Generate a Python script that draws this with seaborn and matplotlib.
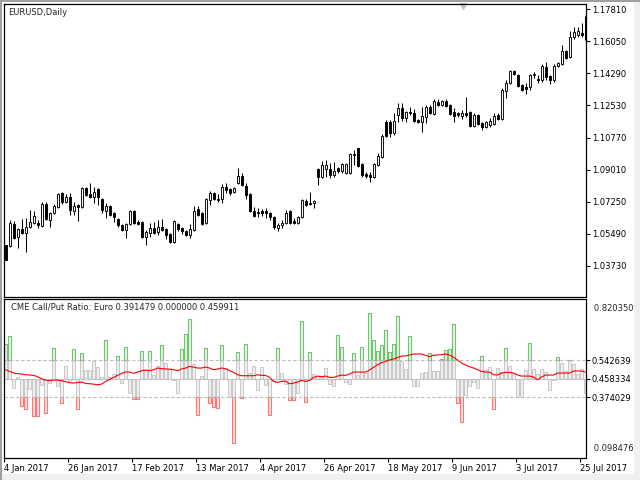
import numpy as np
import matplotlib
matplotlib.use('Agg')
import matplotlib.pyplot as plt
import seaborn as sns
from matplotlib.patches import Rectangle

# EURUSD daily candles, 4 Jan 2017 .. 26 Jul 2017
opens = [1.0487, 1.0482, 1.0602, 1.0531, 1.0575, 1.0553, 1.0586, 1.0608, 1.0608, 1.0591,
         1.0712, 1.0624, 1.0663, 1.0696, 1.0773, 1.0723, 1.0751, 1.0674, 1.0707, 1.0696,
         1.0800, 1.0767, 1.0751, 1.0795, 1.0740, 1.0674, 1.0701, 1.0663, 1.0630, 1.0597,
         1.0569, 1.0602, 1.0674, 1.0613, 1.0613, 1.0531, 1.0553, 1.0580, 1.0558, 1.0586,
         1.0575, 1.0547, 1.0504, 1.0602, 1.0580, 1.0564, 1.0542, 1.0569, 1.0685, 1.0663,
         1.0608, 1.0734, 1.0773, 1.0740, 1.0740, 1.0806, 1.0795, 1.0778, 1.0827, 1.0866,
         1.0811, 1.0767, 1.0674, 1.0668, 1.0674, 1.0674, 1.0663, 1.0641, 1.0580, 1.0597,
         1.0608, 1.0674, 1.0619, 1.0608, 1.0641, 1.0729, 1.0718, 1.0718, 1.0904, 1.0860,
         1.0904, 1.0904, 1.0871, 1.0910, 1.0893, 1.0882, 1.0882, 1.0981, 1.1020, 1.0932,
         1.0877, 1.0871, 1.0860, 1.0926, 1.0970, 1.1162, 1.1162, 1.1102, 1.1201, 1.1239,
         1.1184, 1.1217, 1.1212, 1.1173, 1.1162, 1.1190, 1.1245, 1.1206, 1.1272, 1.1256,
         1.1278, 1.1256, 1.1217, 1.1212, 1.1195, 1.1212, 1.1217, 1.1140, 1.1201, 1.1157,
         1.1135, 1.1146, 1.1151, 1.1201, 1.1179, 1.1333, 1.1376, 1.1442, 1.1420, 1.1366,
         1.1354, 1.1354, 1.1420, 1.1398, 1.1393, 1.1464, 1.1415, 1.1393, 1.1470, 1.1481,
         1.1552, 1.1519, 1.1629, 1.1640, 1.1651, 1.1656]
highs = [1.0487, 1.0624, 1.0619, 1.0580, 1.0630, 1.0635, 1.0679, 1.0674, 1.0624, 1.0723,
         1.0723, 1.0668, 1.0712, 1.0773, 1.0778, 1.0767, 1.0773, 1.0723, 1.0712, 1.0806,
         1.0806, 1.0827, 1.0806, 1.0800, 1.0745, 1.0718, 1.0707, 1.0668, 1.0635, 1.0602,
         1.0608, 1.0679, 1.0679, 1.0624, 1.0619, 1.0569, 1.0608, 1.0613, 1.0624, 1.0630,
         1.0580, 1.0553, 1.0624, 1.0608, 1.0586, 1.0569, 1.0602, 1.0701, 1.0701, 1.0668,
         1.0745, 1.0784, 1.0778, 1.0767, 1.0822, 1.0827, 1.0800, 1.0806, 1.0910, 1.0882,
         1.0827, 1.0773, 1.0696, 1.0690, 1.0685, 1.0690, 1.0668, 1.0646, 1.0608, 1.0624,
         1.0679, 1.0679, 1.0635, 1.0646, 1.0740, 1.0740, 1.0778, 1.0734, 1.0910, 1.0948,
         1.0954, 1.0937, 1.0943, 1.0915, 1.0937, 1.0937, 1.0992, 1.1009, 1.1020, 1.0937,
         1.0888, 1.0888, 1.0937, 1.0992, 1.1096, 1.1173, 1.1173, 1.1212, 1.1267, 1.1267,
         1.1223, 1.1245, 1.1234, 1.1179, 1.1245, 1.1256, 1.1256, 1.1289, 1.1289, 1.1283,
         1.1289, 1.1261, 1.1239, 1.1217, 1.1228, 1.1300, 1.1223, 1.1212, 1.1206, 1.1162,
         1.1168, 1.1184, 1.1212, 1.1212, 1.1349, 1.1393, 1.1448, 1.1448, 1.1426, 1.1371,
         1.1376, 1.1426, 1.1437, 1.1420, 1.1481, 1.1492, 1.1420, 1.1481, 1.1492, 1.1585,
         1.1558, 1.1662, 1.1684, 1.1684, 1.1706, 1.1744]
lows = [1.0405, 1.0476, 1.0520, 1.0471, 1.0547, 1.0449, 1.0580, 1.0602, 1.0580, 1.0586,
        1.0624, 1.0586, 1.0657, 1.0690, 1.0712, 1.0718, 1.0652, 1.0652, 1.0619, 1.0690,
        1.0756, 1.0745, 1.0718, 1.0707, 1.0663, 1.0635, 1.0646, 1.0613, 1.0586, 1.0564,
        1.0525, 1.0597, 1.0602, 1.0597, 1.0525, 1.0487, 1.0531, 1.0547, 1.0542, 1.0564,
        1.0520, 1.0498, 1.0498, 1.0564, 1.0547, 1.0536, 1.0525, 1.0564, 1.0646, 1.0597,
        1.0602, 1.0707, 1.0734, 1.0723, 1.0718, 1.0773, 1.0762, 1.0773, 1.0822, 1.0811,
        1.0740, 1.0668, 1.0641, 1.0641, 1.0646, 1.0635, 1.0624, 1.0575, 1.0564, 1.0580,
        1.0602, 1.0602, 1.0602, 1.0602, 1.0635, 1.0701, 1.0707, 1.0690, 1.0817, 1.0855,
        1.0860, 1.0855, 1.0860, 1.0882, 1.0882, 1.0877, 1.0877, 1.0926, 1.0915, 1.0860,
        1.0855, 1.0833, 1.0855, 1.0921, 1.0965, 1.1080, 1.1080, 1.1091, 1.1162, 1.1168,
        1.1162, 1.1201, 1.1162, 1.1157, 1.1107, 1.1157, 1.1206, 1.1201, 1.1250, 1.1250,
        1.1245, 1.1201, 1.1162, 1.1190, 1.1179, 1.1190, 1.1135, 1.1135, 1.1146, 1.1118,
        1.1129, 1.1135, 1.1146, 1.1173, 1.1173, 1.1294, 1.1371, 1.1420, 1.1354, 1.1333,
        1.1316, 1.1338, 1.1404, 1.1376, 1.1382, 1.1393, 1.1371, 1.1382, 1.1464, 1.1475,
        1.1508, 1.1514, 1.1618, 1.1629, 1.1629, 1.1612]
closes = [1.0405, 1.0608, 1.0525, 1.0575, 1.0553, 1.0586, 1.0613, 1.0646, 1.0597, 1.0712,
          1.0630, 1.0663, 1.0701, 1.0767, 1.0723, 1.0751, 1.0679, 1.0701, 1.0696, 1.0800,
          1.0762, 1.0751, 1.0778, 1.0751, 1.0679, 1.0701, 1.0652, 1.0641, 1.0597, 1.0569,
          1.0602, 1.0674, 1.0608, 1.0602, 1.0531, 1.0558, 1.0580, 1.0553, 1.0586, 1.0569,
          1.0542, 1.0504, 1.0619, 1.0575, 1.0564, 1.0542, 1.0575, 1.0674, 1.0652, 1.0602,
          1.0740, 1.0773, 1.0740, 1.0734, 1.0806, 1.0789, 1.0773, 1.0800, 1.0866, 1.0817,
          1.0762, 1.0674, 1.0646, 1.0663, 1.0663, 1.0663, 1.0641, 1.0586, 1.0597, 1.0608,
          1.0663, 1.0608, 1.0608, 1.0641, 1.0734, 1.0707, 1.0712, 1.0729, 1.0860, 1.0926,
          1.0926, 1.0871, 1.0893, 1.0893, 1.0932, 1.0932, 1.0987, 1.0987, 1.0921, 1.0871,
          1.0866, 1.0860, 1.0932, 1.0976, 1.1085, 1.1085, 1.1102, 1.1168, 1.1239, 1.1184,
          1.1217, 1.1212, 1.1168, 1.1162, 1.1195, 1.1245, 1.1212, 1.1278, 1.1256, 1.1278,
          1.1250, 1.1206, 1.1195, 1.1201, 1.1212, 1.1201, 1.1140, 1.1201, 1.1151, 1.1135,
          1.1162, 1.1168, 1.1195, 1.1179, 1.1338, 1.1376, 1.1442, 1.1426, 1.1360, 1.1338,
          1.1343, 1.1420, 1.1426, 1.1393, 1.1470, 1.1409, 1.1393, 1.1470, 1.1486, 1.1552,
          1.1514, 1.1629, 1.1656, 1.1662, 1.1640, 1.1728]

# CME call/put ratio histogram and its moving average
ratio = [0.6164, 0.6544, 0.4157, 0.4674, 0.3352, 0.3200, 0.4112, 0.2896, 0.2896, 0.4309,
         0.3017, 0.4385, 0.5981, 0.4264, 0.3504, 0.5176, 0.4492, 0.5951, 0.3200, 0.5753,
         0.4978, 0.4978, 0.5373, 0.5130, 0.4674, 0.6361, 0.4644, 0.4811, 0.5617, 0.4370,
         0.6042, 0.3945, 0.3686, 0.3686, 0.5845, 0.4978, 0.5829, 0.4765, 0.5145, 0.6118,
         0.5297, 0.5039, 0.4537, 0.3929, 0.5936, 0.6620, 0.7304, 0.5252, 0.2926, 0.4689,
         0.5997, 0.3473, 0.3321, 0.3245, 0.6118, 0.5069, 0.3747, 0.1650, 0.5799, 0.3717,
         0.6164, 0.4841, 0.5176, 0.4066, 0.5100, 0.4279, 0.2926, 0.4461, 0.5997, 0.4841,
         0.4355, 0.3610, 0.3610, 0.3929, 0.7213, 0.3519, 0.5799, 0.4796, 0.4705, 0.4674,
         0.5069, 0.4340, 0.4249, 0.6574, 0.6027, 0.4431, 0.4340, 0.5753, 0.4765, 0.6027,
         0.4841, 0.7577, 0.6346, 0.5845, 0.6118, 0.6802, 0.5799, 0.6164, 0.7441, 0.5389,
         0.5024, 0.6529, 0.4249, 0.4249, 0.4841, 0.4887, 0.5753, 0.4933, 0.4933, 0.5495,
         0.5905, 0.5951, 0.7076, 0.3473, 0.2607, 0.3838, 0.4249, 0.4431, 0.4157, 0.5617,
         0.4978, 0.5115, 0.3200, 0.5069, 0.4887, 0.5981, 0.5161, 0.4841, 0.3747, 0.3747,
         0.4978, 0.6209, 0.5024, 0.4796, 0.5024, 0.4887, 0.4066, 0.4522, 0.5571, 0.5297,
         0.4933, 0.5434, 0.5252, 0.4796, 0.5024, 0.3915]
ratio_ma = [0.4993, 0.4917, 0.4841, 0.4811, 0.4796, 0.4765, 0.4750, 0.4735, 0.4674, 0.4583,
            0.4522, 0.4492, 0.4522, 0.4522, 0.4492, 0.4446, 0.4401, 0.4385, 0.4416, 0.4431,
            0.4370, 0.4355, 0.4340, 0.4309, 0.4340, 0.4461, 0.4553, 0.4644, 0.4735, 0.4826,
            0.4887, 0.4887, 0.4826, 0.4887, 0.4948, 0.4978, 0.4948, 0.4993, 0.5069, 0.5039,
            0.5024, 0.5024, 0.4993, 0.4948, 0.5024, 0.5069, 0.5145, 0.5115, 0.5069, 0.5069,
            0.5115, 0.5069, 0.4993, 0.5024, 0.5069, 0.5039, 0.4948, 0.4872, 0.4765, 0.4720,
            0.4720, 0.4720, 0.4720, 0.4765, 0.4735, 0.4735, 0.4644, 0.4461, 0.4416, 0.4461,
            0.4476, 0.4355, 0.4385, 0.4431, 0.4507, 0.4461, 0.4507, 0.4644, 0.4705, 0.4674,
            0.4705, 0.4644, 0.4644, 0.4705, 0.4750, 0.4735, 0.4796, 0.4887, 0.4887, 0.4887,
            0.4887, 0.4978, 0.5100, 0.5221, 0.5313, 0.5373, 0.5434, 0.5480, 0.5541, 0.5617,
            0.5617, 0.5662, 0.5708, 0.5708, 0.5708, 0.5647, 0.5586, 0.5647, 0.5662, 0.5677,
            0.5708, 0.5662, 0.5556, 0.5434, 0.5297, 0.5206, 0.5130, 0.5069, 0.4993, 0.4917,
            0.4887, 0.4887, 0.4765, 0.4750, 0.4841, 0.4872, 0.4872, 0.4841, 0.4750, 0.4705,
            0.4705, 0.4705, 0.4659, 0.4537, 0.4659, 0.4750, 0.4750, 0.4750, 0.4841, 0.4841,
            0.4841, 0.4841, 0.4933, 0.4933, 0.4933, 0.4887]

levels = [0.542639, 0.458334, 0.374029]
ind_min, ind_max = 0.098476, 0.820350
price_ticks = [1.17810, 1.16050, 1.14290, 1.12530, 1.10770, 1.09010, 1.07250, 1.05490, 1.03730]
date_labels = ['4 Jan 2017', '26 Jan 2017', '17 Feb 2017', '13 Mar 2017', '4 Apr 2017',
               '26 Apr 2017', '18 May 2017', '9 Jun 2017', '3 Jul 2017', '25 Jul 2017']
date_bars = [0, 16, 32, 48, 64, 80, 96, 112, 128, 144]

sns.set_style('white')
plt.rcParams['font.family'] = ['DejaVu Sans']
plt.rcParams['font.size'] = 6

W, H = 640, 480
fig = plt.figure(figsize=(6.4, 4.8), dpi=100, facecolor='#f0f0f0')
fig.add_artist(Rectangle((2 / W, 6 / H), 632 / W, 472 / H, transform=fig.transFigure,
                         facecolor='white', edgecolor='none', zorder=0))
fig.add_artist(Rectangle((0, 0), 2 / W, 1, transform=fig.transFigure, facecolor='#a0a0a0', edgecolor='none'))
fig.add_artist(Rectangle((0, 1 - 2 / H), 1, 2 / H, transform=fig.transFigure, facecolor='#a0a0a0', edgecolor='none'))


def px_axes(left, top, right, bottom):
    return fig.add_axes([left / W, 1 - bottom / H, (right - left) / W, (bottom - top) / H])


ax = px_axes(4, 4, 585.5, 296.5)
ax2 = px_axes(4, 299, 585.5, 458)

idx = np.arange(len(closes))
o = np.array(opens); c = np.array(closes)
xlim = (-0.4, 145.0)

# candles
ax.vlines(idx, lows, highs, color='black', lw=0.75, zorder=2)
up = c >= o
body_lo = np.minimum(o, c)
body_h = np.maximum(np.abs(c - o), 0.00005)
ax.bar(idx[up], body_h[up], bottom=body_lo[up], width=0.5, color='white', edgecolor='black', lw=0.65, zorder=3)
ax.bar(idx[~up], body_h[~up], bottom=body_lo[~up], width=0.5, color='black', edgecolor='black', lw=0.65, zorder=3)
ax.set_xlim(*xlim)
ax.set_ylim(1.02043, 1.1810)
ax.set_xticks([])
ax.yaxis.tick_right()
ax.set_yticks(price_ticks)
ax.set_yticklabels(['%.5f' % p for p in price_ticks])
ax.tick_params(axis='y', direction='out', length=3, width=0.8, pad=1.5, labelsize=6, colors='black', right=True)
ax.text(0.007, 0.985, 'EURUSD,Daily', transform=ax.transAxes, ha='left', va='top', fontsize=6)
ax.plot([0.789], [0.992], marker='v', color='#c0c0c0', ms=5, transform=ax.transAxes, clip_on=False)

# indicator
r = np.array(ratio)
upper, mid, lower = levels
grey_top = np.clip(r, lower, upper)
ax2.bar(idx, grey_top - mid, bottom=mid, width=0.92, color='#efefef', edgecolor='#c8c8c8', lw=0.7, zorder=1)
g = r > upper
ax2.bar(idx[g], r[g] - upper, bottom=upper, width=0.92, color='#e6f6e6', edgecolor='#74c074', lw=0.8, zorder=1)
rd = r < lower
ax2.bar(idx[rd], r[rd] - lower, bottom=lower, width=0.92, color='#ffdcdc', edgecolor='#ee7f7f', lw=0.8, zorder=1)
for lv in levels:
    ax2.axhline(lv, color='#bdbdbd', lw=0.8, ls=(0, (3, 2)), zorder=2)
sns.lineplot(x=idx, y=ratio_ma, ax=ax2, color='red', lw=0.8, zorder=3)
ax2.set_xlim(*xlim)
ax2.set_ylim(ind_min, ind_max)
ax2.yaxis.tick_right()
ax2.set_yticks(levels)
ax2.set_yticklabels(['%.6f' % v for v in levels])
ax2.tick_params(axis='y', direction='out', length=3, width=0.8, pad=1.5, labelsize=6, colors='black', right=True)
ax2.text(1.0, 0.97, '   %.6f' % ind_max, transform=ax2.transAxes, ha='left', va='top', fontsize=6)
ax2.text(1.0, 0.03, '   %.6f' % ind_min, transform=ax2.transAxes, ha='left', va='bottom', fontsize=6)
ax2.set_xticks([b - 0.4 for b in date_bars])
ax2.set_xticklabels(date_labels)
plt.setp(ax2.get_xticklabels(), ha='left')
ax2.tick_params(axis='x', direction='out', length=3, width=0.8, pad=1.5, labelsize=6, colors='black', bottom=True)
ax2.text(0.012, 0.975, 'CME Call/Put Ratio: Euro 0.391479 0.000000 0.459911', transform=ax2.transAxes,
         ha='left', va='top', fontsize=6)

for a in (ax, ax2):
    a.set_xlabel('')
    a.set_ylabel('')
    for s in a.spines.values():
        s.set_color('black')
        s.set_linewidth(0.9)
        s.set_visible(True)

fig.savefig('out.png', dpi=100, facecolor=fig.get_facecolor())
